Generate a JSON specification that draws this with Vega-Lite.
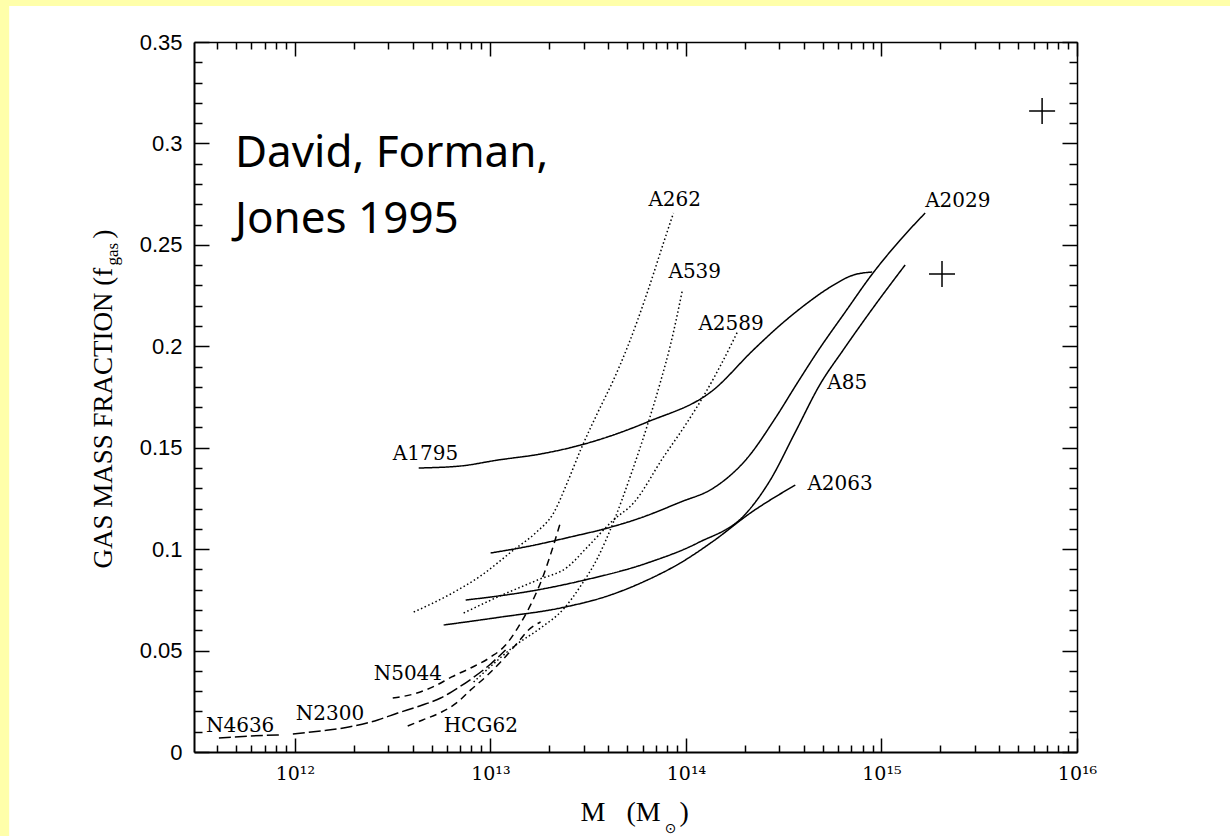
{
  "$schema": "https://vega.github.io/schema/vega-lite/v6.json",
  "width": 883,
  "height": 710,
  "autosize": "none",
  "padding": {"left": 194, "top": 42, "right": 153, "bottom": 84},
  "background": "#FFFFAA",
  "config": {"view": {"stroke": null}, "axis": {"grid": false}},
  "resolve": {"axis": {"x": "independent", "y": "independent"}},
  "datasets": {
    "curves": [
      {"name": "A1795", "style": "solid", "M": 4.30e12, "f": 0.1400},
      {"name": "A1795", "style": "solid", "M": 7.05e12, "f": 0.1410},
      {"name": "A1795", "style": "solid", "M": 1.089e13, "f": 0.1439},
      {"name": "A1795", "style": "solid", "M": 1.806e13, "f": 0.1469},
      {"name": "A1795", "style": "solid", "M": 2.892e13, "f": 0.1513},
      {"name": "A1795", "style": "solid", "M": 6.358e13, "f": 0.1627},
      {"name": "A1795", "style": "solid", "M": 1.382e14, "f": 0.1785},
      {"name": "A1795", "style": "solid", "M": 2.212e14, "f": 0.1982},
      {"name": "A1795", "style": "solid", "M": 3.039e14, "f": 0.2105},
      {"name": "A1795", "style": "solid", "M": 4.176e14, "f": 0.2213},
      {"name": "A1795", "style": "solid", "M": 5.472e14, "f": 0.2292},
      {"name": "A1795", "style": "solid", "M": 7.173e14, "f": 0.2351},
      {"name": "A1795", "style": "solid", "M": 8.968e14, "f": 0.2366},
      {"name": "A2029", "style": "solid", "M": 1.003e13, "f": 0.0981},
      {"name": "A2029", "style": "solid", "M": 1.606e13, "f": 0.1016},
      {"name": "A2029", "style": "solid", "M": 2.570e13, "f": 0.1060},
      {"name": "A2029", "style": "solid", "M": 3.972e13, "f": 0.1104},
      {"name": "A2029", "style": "solid", "M": 5.856e13, "f": 0.1154},
      {"name": "A2029", "style": "solid", "M": 9.374e13, "f": 0.1232},
      {"name": "A2029", "style": "solid", "M": 1.382e14, "f": 0.1301},
      {"name": "A2029", "style": "solid", "M": 2.061e14, "f": 0.1449},
      {"name": "A2029", "style": "solid", "M": 2.866e14, "f": 0.1646},
      {"name": "A2029", "style": "solid", "M": 3.712e14, "f": 0.1819},
      {"name": "A2029", "style": "solid", "M": 4.696e14, "f": 0.1972},
      {"name": "A2029", "style": "solid", "M": 6.528e14, "f": 0.2169},
      {"name": "A2029", "style": "solid", "M": 8.968e14, "f": 0.2356},
      {"name": "A2029", "style": "solid", "M": 1.247e15, "f": 0.2524},
      {"name": "A2029", "style": "solid", "M": 1.673e15, "f": 0.2657},
      {"name": "A85", "style": "solid", "M": 7.475e12, "f": 0.0749},
      {"name": "A85", "style": "solid", "M": 1.744e13, "f": 0.0799},
      {"name": "A85", "style": "solid", "M": 2.892e13, "f": 0.0843},
      {"name": "A85", "style": "solid", "M": 6.358e13, "f": 0.0932},
      {"name": "A85", "style": "solid", "M": 1.145e14, "f": 0.1030},
      {"name": "A85", "style": "solid", "M": 2.061e14, "f": 0.1183},
      {"name": "A85", "style": "solid", "M": 2.702e14, "f": 0.1341},
      {"name": "A85", "style": "solid", "M": 3.626e14, "f": 0.1577},
      {"name": "A85", "style": "solid", "M": 4.864e14, "f": 0.1814},
      {"name": "A85", "style": "solid", "M": 6.377e14, "f": 0.1982},
      {"name": "A85", "style": "solid", "M": 9.292e14, "f": 0.2204},
      {"name": "A85", "style": "solid", "M": 1.322e15, "f": 0.2401},
      {"name": "A2063", "style": "solid", "M": 5.77e12, "f": 0.0626},
      {"name": "A2063", "style": "solid", "M": 1.128e13, "f": 0.0665},
      {"name": "A2063", "style": "solid", "M": 2.285e13, "f": 0.0710},
      {"name": "A2063", "style": "solid", "M": 4.115e13, "f": 0.0774},
      {"name": "A2063", "style": "solid", "M": 6.358e13, "f": 0.0848},
      {"name": "A2063", "style": "solid", "M": 9.374e13, "f": 0.0932},
      {"name": "A2063", "style": "solid", "M": 1.382e14, "f": 0.1040},
      {"name": "A2063", "style": "solid", "M": 2.135e14, "f": 0.1178},
      {"name": "A2063", "style": "solid", "M": 3.626e14, "f": 0.1316},
      {"name": "A262", "style": "dotted", "M": 4.054e12, "f": 0.0690},
      {"name": "A262", "style": "dotted", "M": 6.265e12, "f": 0.0779},
      {"name": "A262", "style": "dotted", "M": 8.917e12, "f": 0.0868},
      {"name": "A262", "style": "dotted", "M": 1.315e13, "f": 0.0996},
      {"name": "A262", "style": "dotted", "M": 1.703e13, "f": 0.1080},
      {"name": "A262", "style": "dotted", "M": 2.104e13, "f": 0.1178},
      {"name": "A262", "style": "dotted", "M": 2.481e13, "f": 0.1331},
      {"name": "A262", "style": "dotted", "M": 2.892e13, "f": 0.1489},
      {"name": "A262", "style": "dotted", "M": 3.531e13, "f": 0.1671},
      {"name": "A262", "style": "dotted", "M": 4.262e13, "f": 0.1834},
      {"name": "A262", "style": "dotted", "M": 5.024e13, "f": 0.1996},
      {"name": "A262", "style": "dotted", "M": 6.358e13, "f": 0.2268},
      {"name": "A262", "style": "dotted", "M": 7.676e13, "f": 0.2509},
      {"name": "A262", "style": "dotted", "M": 8.634e13, "f": 0.2657},
      {"name": "A539", "style": "dotted", "M": 8.21e12, "f": 0.0345},
      {"name": "A539", "style": "dotted", "M": 1.064e13, "f": 0.0444},
      {"name": "A539", "style": "dotted", "M": 1.346e13, "f": 0.0527},
      {"name": "A539", "style": "dotted", "M": 1.806e13, "f": 0.0611},
      {"name": "A539", "style": "dotted", "M": 2.367e13, "f": 0.0705},
      {"name": "A539", "style": "dotted", "M": 2.892e13, "f": 0.0818},
      {"name": "A539", "style": "dotted", "M": 3.531e13, "f": 0.0956},
      {"name": "A539", "style": "dotted", "M": 4.262e13, "f": 0.1134},
      {"name": "A539", "style": "dotted", "M": 5.205e13, "f": 0.1361},
      {"name": "A539", "style": "dotted", "M": 6.358e13, "f": 0.1612},
      {"name": "A539", "style": "dotted", "M": 7.408e13, "f": 0.1824},
      {"name": "A539", "style": "dotted", "M": 8.333e13, "f": 0.2006},
      {"name": "A539", "style": "dotted", "M": 9.596e13, "f": 0.2277},
      {"name": "A2589", "style": "dotted", "M": 7.30e12, "f": 0.0685},
      {"name": "A2589", "style": "dotted", "M": 1.089e13, "f": 0.0764},
      {"name": "A2589", "style": "dotted", "M": 1.744e13, "f": 0.0848},
      {"name": "A2589", "style": "dotted", "M": 2.481e13, "f": 0.0912},
      {"name": "A2589", "style": "dotted", "M": 3.139e13, "f": 0.1011},
      {"name": "A2589", "style": "dotted", "M": 4.262e13, "f": 0.1144},
      {"name": "A2589", "style": "dotted", "M": 5.392e13, "f": 0.1227},
      {"name": "A2589", "style": "dotted", "M": 7.676e13, "f": 0.1454},
      {"name": "A2589", "style": "dotted", "M": 9.94e13, "f": 0.1612},
      {"name": "A2589", "style": "dotted", "M": 1.258e14, "f": 0.1770},
      {"name": "A2589", "style": "dotted", "M": 1.537e14, "f": 0.1923},
      {"name": "A2589", "style": "dotted", "M": 1.833e14, "f": 0.2070},
      {"name": "N4636", "style": "longdash", "M": 4.09e11, "f": 0.0069},
      {"name": "N4636", "style": "longdash", "M": 5.96e11, "f": 0.0079},
      {"name": "N4636", "style": "longdash", "M": 8.48e11, "f": 0.0084},
      {"name": "N2300", "style": "longdash", "M": 9.77e11, "f": 0.0089},
      {"name": "N2300", "style": "longdash", "M": 1.358e12, "f": 0.0104},
      {"name": "N2300", "style": "longdash", "M": 1.887e12, "f": 0.0123},
      {"name": "N2300", "style": "longdash", "M": 2.655e12, "f": 0.0158},
      {"name": "N2300", "style": "longdash", "M": 3.359e12, "f": 0.0192},
      {"name": "N2300", "style": "longdash", "M": 4.351e12, "f": 0.0227},
      {"name": "N2300", "style": "longdash", "M": 5.569e12, "f": 0.0266},
      {"name": "N2300", "style": "longdash", "M": 6.80e12, "f": 0.0315},
      {"name": "N2300", "style": "longdash", "M": 8.118e12, "f": 0.0365},
      {"name": "N2300", "style": "longdash", "M": 1.003e13, "f": 0.0434},
      {"name": "N2300", "style": "longdash", "M": 1.196e13, "f": 0.0503},
      {"name": "N5044", "style": "dashed", "M": 3.167e12, "f": 0.0266},
      {"name": "N5044", "style": "dashed", "M": 4.054e12, "f": 0.0286},
      {"name": "N5044", "style": "dashed", "M": 5.189e12, "f": 0.0325},
      {"name": "N5044", "style": "dashed", "M": 6.339e12, "f": 0.0370},
      {"name": "N5044", "style": "dashed", "M": 7.929e12, "f": 0.0414},
      {"name": "N5044", "style": "dashed", "M": 1.003e13, "f": 0.0468},
      {"name": "N5044", "style": "dashed", "M": 1.196e13, "f": 0.0527},
      {"name": "N5044", "style": "dashed", "M": 1.378e13, "f": 0.0611},
      {"name": "N5044", "style": "dashed", "M": 1.606e13, "f": 0.0725},
      {"name": "N5044", "style": "dashed", "M": 1.871e13, "f": 0.0873},
      {"name": "N5044", "style": "dashed", "M": 2.104e13, "f": 0.1020},
      {"name": "N5044", "style": "dashed", "M": 2.285e13, "f": 0.1134},
      {"name": "HCG62", "style": "dashed", "M": 3.778e12, "f": 0.0128},
      {"name": "HCG62", "style": "dashed", "M": 4.507e12, "f": 0.0158},
      {"name": "HCG62", "style": "dashed", "M": 5.636e12, "f": 0.0197},
      {"name": "HCG62", "style": "dashed", "M": 6.80e12, "f": 0.0246},
      {"name": "HCG62", "style": "dashed", "M": 7.929e12, "f": 0.0306},
      {"name": "HCG62", "style": "dashed", "M": 9.456e12, "f": 0.0370},
      {"name": "HCG62", "style": "dashed", "M": 1.128e13, "f": 0.0444},
      {"name": "HCG62", "style": "dashed", "M": 1.346e13, "f": 0.0527},
      {"name": "HCG62", "style": "dashed", "M": 1.606e13, "f": 0.0611},
      {"name": "HCG62", "style": "dashed", "M": 1.806e13, "f": 0.0641}
    ],
    "labels": [
      {"name": "A262", "M": 6.43e13, "f": 0.2692},
      {"name": "A539", "M": 8.14e13, "f": 0.2337},
      {"name": "A2589", "M": 1.158e14, "f": 0.2080},
      {"name": "A2029", "M": 1.673e15, "f": 0.2687},
      {"name": "A85", "M": 5.28e14, "f": 0.1789},
      {"name": "A1795", "M": 3.17e12, "f": 0.1439},
      {"name": "A2063", "M": 4.18e14, "f": 0.1292},
      {"name": "N5044", "M": 2.53e12, "f": 0.0355},
      {"name": "N2300", "M": 1.012e12, "f": 0.0158},
      {"name": "N4636", "M": 3.51e11, "f": 0.0099},
      {"name": "HCG62", "M": 5.77e12, "f": 0.0099}
    ],
    "crosses": [
      {"M": 6.63e15, "f": 0.316},
      {"M": 2.04e15, "f": 0.2356}
    ],
    "note": [
      {"text": "David, Forman,", "M": 4.94e11, "f": 0.2884},
      {"text": "Jones 1995", "M": 4.94e11, "f": 0.2558}
    ]
  },
  "layer": [
    {
      "data": {"values": [{"panel": "background"}]},
      "mark": {"type": "rect", "color": "white"},
      "encoding": {
        "x": {"datum": 3.46e10, "type": "quantitative",
          "scale": {"type": "log", "domain": [3.05e11, 1e16], "nice": false},
          "axis": {"orient": "bottom", "zindex": 1, "values": [4e11,5e11,6e11,7e11,8e11,9e11,2e12,3e12,4e12,5e12,6e12,7e12,8e12,9e12,2e13,3e13,4e13,5e13,6e13,7e13,8e13,9e13,2e14,3e14,4e14,5e14,6e14,7e14,8e14,9e14,2e15,3e15,4e15,5e15,6e15,7e15,8e15,9e15],
            "labels": false, "domain": false, "tickSize": -7, "tickWidth": 1.5, "tickColor": "black",
            "title": "⊙", "titleFont": "DejaVu Sans", "titleFontSize": 14, "titleFontWeight": "normal", "titleColor": "black",
            "titleX": 476, "titleY": 80, "titleAlign": "center", "titleBaseline": "alphabetic"}},
        "x2": {"datum": 1e17},
        "y": {"datum": 0.3677, "type": "quantitative",
          "scale": {"domain": [0, 0.35], "nice": false, "zero": false},
          "axis": {"orient": "left", "zindex": 1, "values": [0.01,0.02,0.03,0.04,0.06,0.07,0.08,0.09,0.11,0.12,0.13,0.14,0.16,0.17,0.18,0.19,0.21,0.22,0.23,0.24,0.26,0.27,0.28,0.29,0.31,0.32,0.33,0.34],
            "labels": false, "domain": false, "tickSize": -8, "tickWidth": 1.5, "tickColor": "black",
            "title": "gas", "titleFont": "Liberation Serif", "titleFontSize": 17, "titleFontWeight": "normal", "titleColor": "black",
            "titleAngle": 270, "titleX": -77, "titleY": 223, "titleAlign": "left", "titleBaseline": "alphabetic"}},
        "y2": {"datum": -0.1}
      }
    },
    {
      "data": {"name": "curves"},
      "mark": {"type": "line", "interpolate": "monotone", "color": "black", "strokeWidth": 1.5},
      "encoding": {
        "x": {"field": "M", "type": "quantitative",
          "scale": {"type": "log", "domain": [3.05e11, 1e16], "nice": false},
          "axis": {"orient": "bottom", "zindex": 1, "values": [1e12, 1e13, 1e14, 1e15, 1e16],
            "labelExpr": "'10' + (round(log(datum.value)/LN10) == 12 ? '¹²' : round(log(datum.value)/LN10) == 13 ? '¹³' : round(log(datum.value)/LN10) == 14 ? '¹⁴' : round(log(datum.value)/LN10) == 15 ? '¹⁵' : '¹⁶')",
            "labelFont": "DejaVu Serif", "labelFontSize": 19, "labelColor": "black", "labelPadding": 26, "labelOverlap": false, "labelFlush": false,
            "tickSize": -14, "tickWidth": 1.5, "tickColor": "black", "domainColor": "black", "domainWidth": 2,
            "title": "M\u00a0\u00a0\u00a0(M", "titleFont": "Liberation Serif", "titleFontSize": 28, "titleFontWeight": "normal", "titleColor": "black",
            "titleX": 386, "titleY": 68, "titleAlign": "left", "titleBaseline": "alphabetic"}},
        "y": {"field": "f", "type": "quantitative",
          "scale": {"domain": [0, 0.35], "nice": false, "zero": false},
          "axis": {"orient": "left", "zindex": 1, "values": [0, 0.05, 0.1, 0.15, 0.2, 0.25, 0.3, 0.35], "format": "~g",
            "labelFont": "Liberation Sans", "labelFontSize": 22, "labelColor": "black", "labelPadding": 27, "labelOverlap": false, "labelFlush": false,
            "tickSize": -15, "tickWidth": 1.5, "tickColor": "black", "domainColor": "black", "domainWidth": 2,
            "title": "GAS MASS FRACTION (f", "titleFont": "Liberation Serif", "titleFontSize": 27, "titleFontWeight": "normal", "titleColor": "black",
            "titleAngle": 270, "titleX": -83, "titleY": 526, "titleAlign": "left", "titleBaseline": "alphabetic"}},
        "detail": {"field": "name"},
        "strokeDash": {"field": "style", "type": "nominal",
          "scale": {"domain": ["solid", "dotted", "dashed", "longdash"], "range": [[1, 0], [1.5, 2.5], [7, 5], [12, 4]]},
          "legend": null}
      }
    },
    {
      "data": {"name": "crosses"},
      "mark": {"type": "point", "shape": "M-1,0H1M0,-1V1", "size": 676, "filled": false, "stroke": "black", "strokeWidth": 1.5, "opacity": 1},
      "encoding": {
        "x": {"field": "M", "type": "quantitative",
          "scale": {"type": "log", "domain": [3.05e11, 1e16], "nice": false},
          "axis": {"orient": "top", "zindex": 1, "values": [1e12, 1e13, 1e14, 1e15, 1e16], "labels": false,
            "tickSize": -14, "tickWidth": 1.5, "tickColor": "black", "domainColor": "black", "domainWidth": 1.5,
            "title": ")", "titleFont": "Liberation Serif", "titleFontSize": 28, "titleFontWeight": "normal", "titleColor": "black",
            "titleX": 485, "titleY": 778, "titleAlign": "left", "titleBaseline": "alphabetic"}},
        "y": {"field": "f", "type": "quantitative",
          "scale": {"domain": [0, 0.35], "nice": false, "zero": false},
          "axis": {"orient": "right", "zindex": 1, "values": [0, 0.05, 0.1, 0.15, 0.2, 0.25, 0.3, 0.35], "labels": false,
            "tickSize": -15, "tickWidth": 1.5, "tickColor": "black", "domainColor": "black", "domainWidth": 1.5,
            "title": ")", "titleFont": "Liberation Serif", "titleFontSize": 27, "titleFontWeight": "normal", "titleColor": "black",
            "titleAngle": 270, "titleX": -966, "titleY": 196, "titleAlign": "left", "titleBaseline": "alphabetic"}}
      }
    },
    {
      "data": {"name": "labels"},
      "mark": {"type": "text", "align": "left", "baseline": "alphabetic", "font": "DejaVu Serif", "fontSize": 20, "color": "black"},
      "encoding": {
        "x": {"field": "M", "type": "quantitative",
          "scale": {"type": "log", "domain": [3.05e11, 1e16], "nice": false},
          "axis": {"orient": "top", "zindex": 1, "values": [4e11,5e11,6e11,7e11,8e11,9e11,2e12,3e12,4e12,5e12,6e12,7e12,8e12,9e12,2e13,3e13,4e13,5e13,6e13,7e13,8e13,9e13,2e14,3e14,4e14,5e14,6e14,7e14,8e14,9e14,2e15,3e15,4e15,5e15,6e15,7e15,8e15,9e15],
            "labels": false, "domain": false, "tickSize": -7, "tickWidth": 1.5, "tickColor": "black", "title": null}},
        "y": {"field": "f", "type": "quantitative",
          "scale": {"domain": [0, 0.35], "nice": false, "zero": false},
          "axis": {"orient": "right", "zindex": 1, "values": [0.01,0.02,0.03,0.04,0.06,0.07,0.08,0.09,0.11,0.12,0.13,0.14,0.16,0.17,0.18,0.19,0.21,0.22,0.23,0.24,0.26,0.27,0.28,0.29,0.31,0.32,0.33,0.34],
            "labels": false, "domain": false, "tickSize": -8, "tickWidth": 1.5, "tickColor": "black", "title": null}},
        "text": {"field": "name"}
      }
    },
    {
      "data": {"name": "note"},
      "mark": {"type": "text", "align": "left", "baseline": "alphabetic", "font": "Noto Sans", "fontSize": 44, "color": "black"},
      "encoding": {
        "x": {"field": "M", "type": "quantitative",
          "scale": {"type": "log", "domain": [3.05e11, 1e16], "nice": false}, "axis": null},
        "y": {"field": "f", "type": "quantitative",
          "scale": {"domain": [0, 0.35], "nice": false, "zero": false}, "axis": null},
        "text": {"field": "text"}
      }
    }
  ]
}
